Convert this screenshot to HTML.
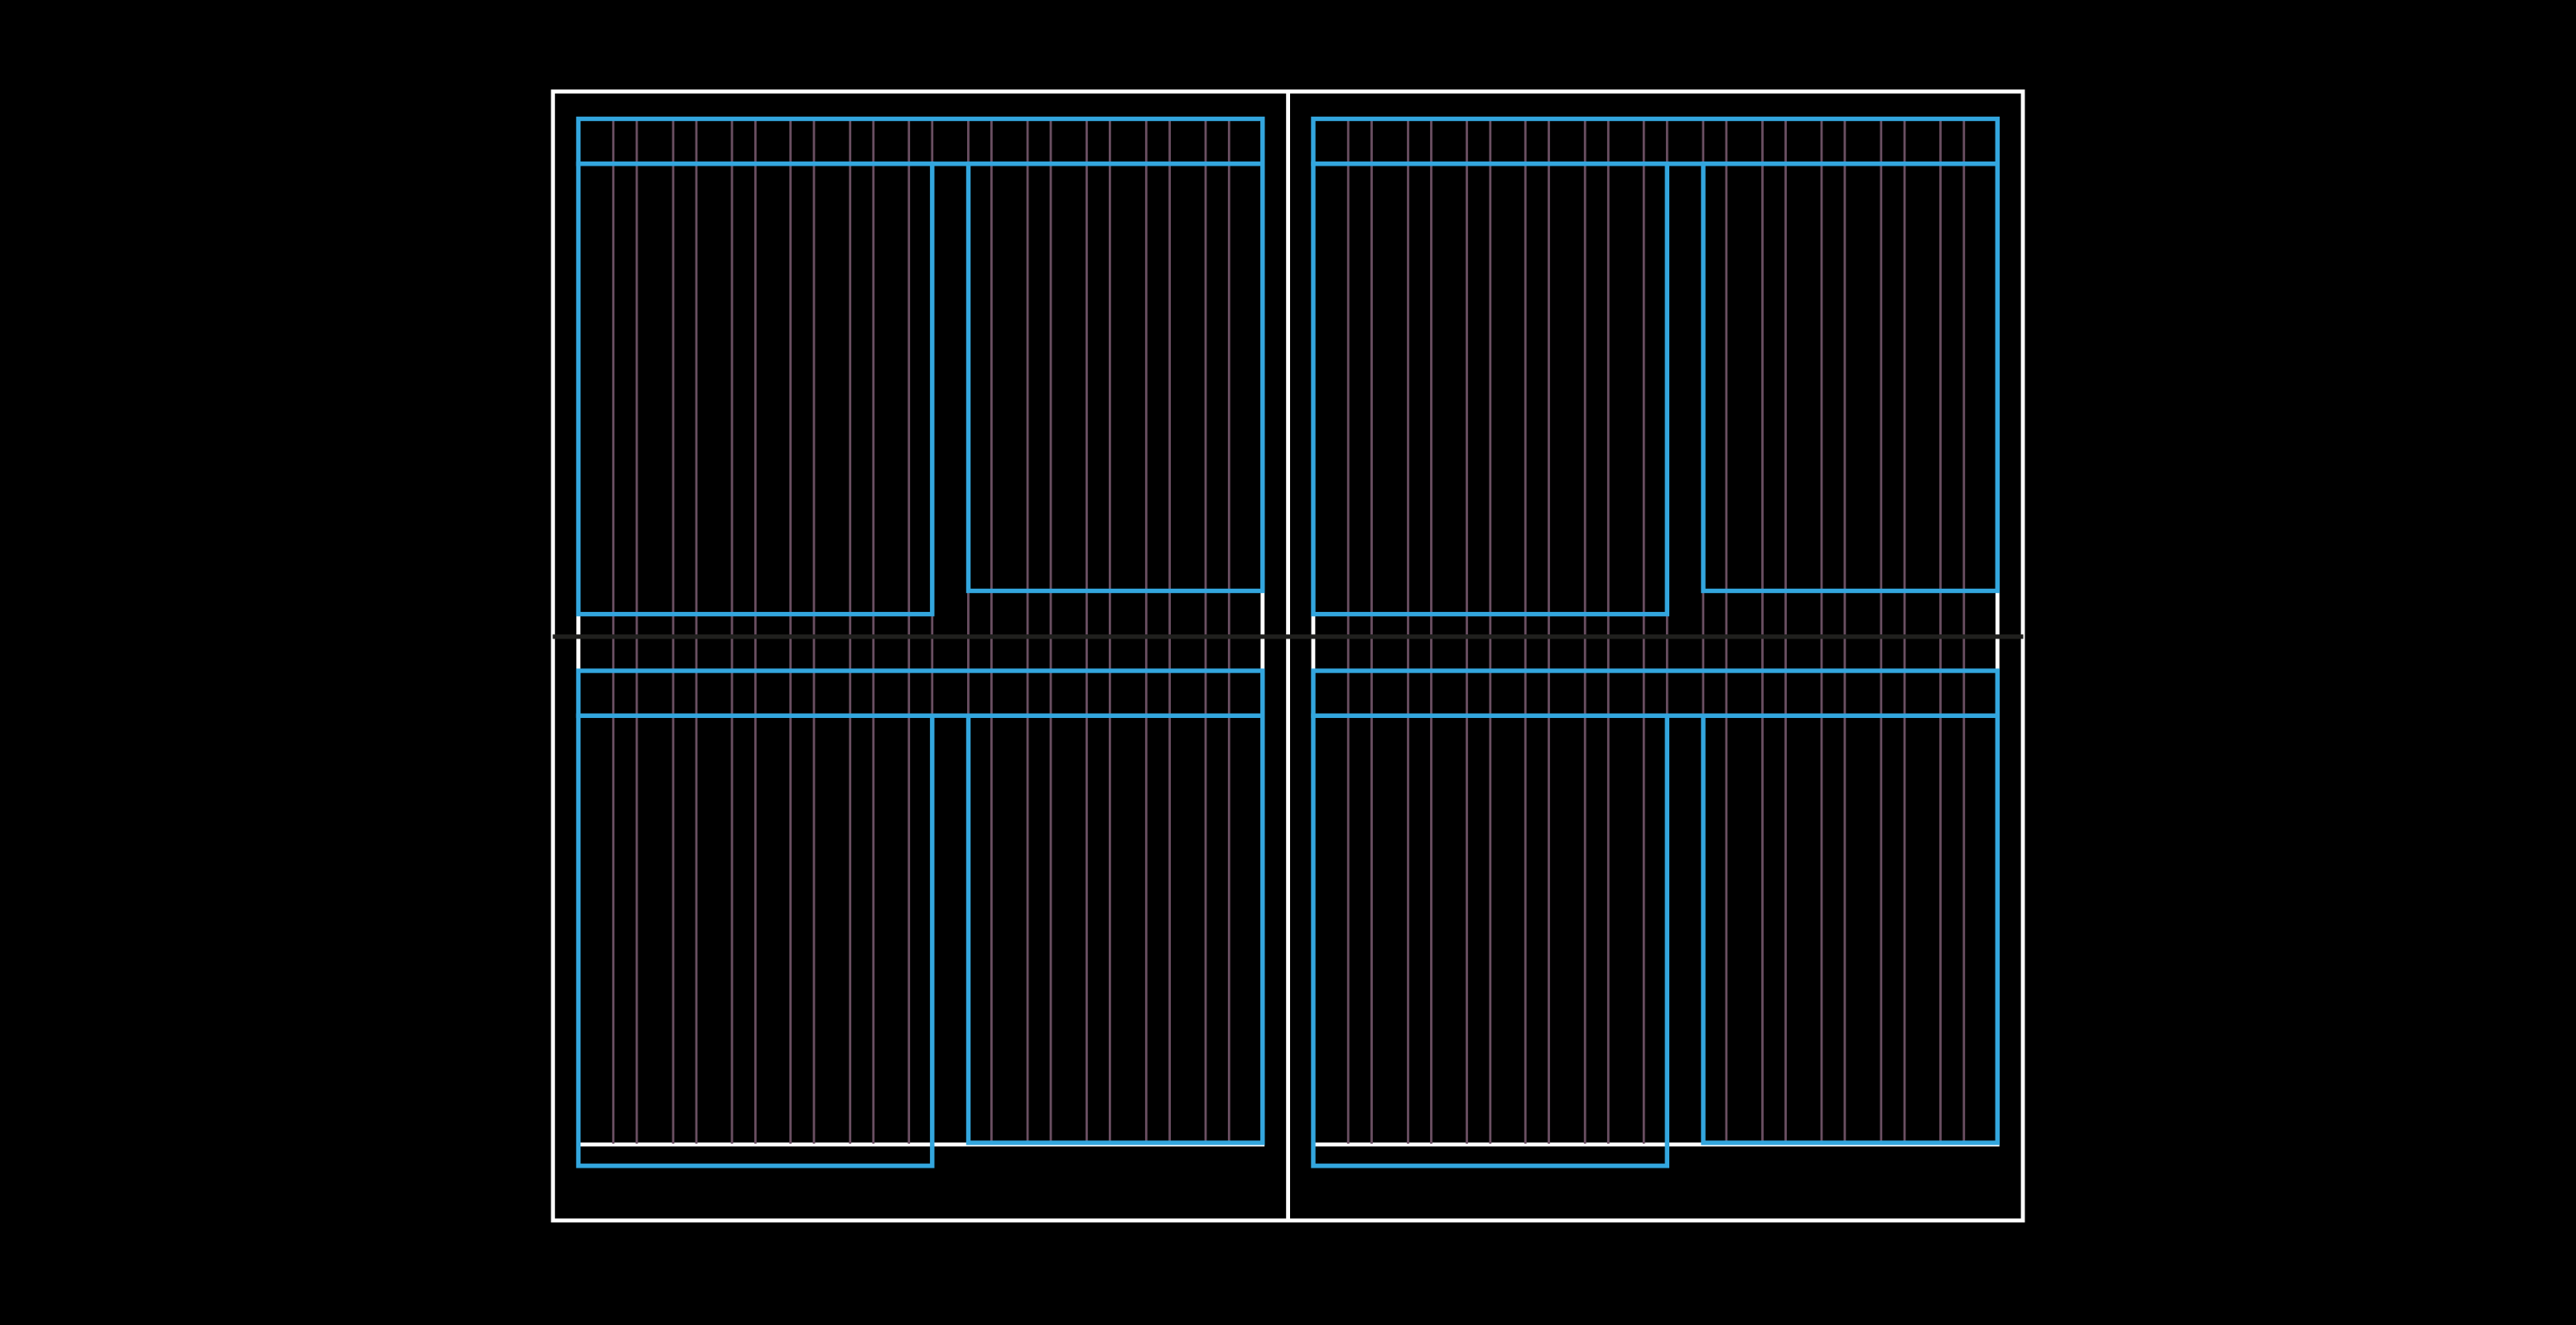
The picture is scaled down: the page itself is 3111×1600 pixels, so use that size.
<!DOCTYPE html>
<html>
<head>
<meta charset="utf-8">
<style>
html,body{margin:0;padding:0;background:#000;width:3111px;height:1600px;overflow:hidden}
svg{display:block}
</style>
</head>
<body>
<svg xmlns="http://www.w3.org/2000/svg" width="3111" height="1600" viewBox="0 0 3111 1600">
<rect width="3111" height="1600" fill="#000"/>
<defs>
<g id="half">
  <rect x="698.5" y="143.5" width="826.3" height="1238.5" fill="none" stroke="#fff" stroke-width="4.8"/>
  <path fill="none" stroke="#6a4f62" stroke-width="2.8" d="M740.7 146V1381M769 146V1381M813 146V1381M841 146V1381M884 146V1381M912.3 146V1381M954.7 146V1381M983 146V1381M1026.7 146V1381M1054.8 146V1381M1097.7 146V1381M1125.8 146V1381M1169.4 146V1381M1197.4 146V1381M1241 146V1381M1269 146V1381M1312.4 146V1381M1340.4 146V1381M1384.3 146V1381M1412.6 146V1381M1456 146V1381M1484.3 146V1381"/>
  <g fill="none" stroke="#33a6de" stroke-width="5.4">
    <rect x="698.5" y="143.5" width="826.3" height="54.3"/>
    <rect x="698.5" y="197.8" width="427.3" height="543.8"/>
    <rect x="1169.5" y="197.8" width="355.3" height="515.7"/>
    <rect x="698.5" y="810" width="826.3" height="54.2"/>
    <rect x="698.5" y="864.2" width="427.3" height="543.6"/>
    <rect x="1169.5" y="864.2" width="355.3" height="515.8"/>
  </g>
</g>
</defs>
<rect x="667.8" y="110.5" width="1775.2" height="1363.3" fill="none" stroke="#fff" stroke-width="4.8"/>
<line x1="1555.6" y1="110.5" x2="1555.6" y2="1473.8" stroke="#fff" stroke-width="4.8"/>
<use href="#half"/>
<use href="#half" transform="translate(887.5 0)"/>
<line x1="667.5" y1="768.8" x2="2443.5" y2="768.8" stroke="#20201e" stroke-width="5.4"/>
</svg>
</body>
</html>
